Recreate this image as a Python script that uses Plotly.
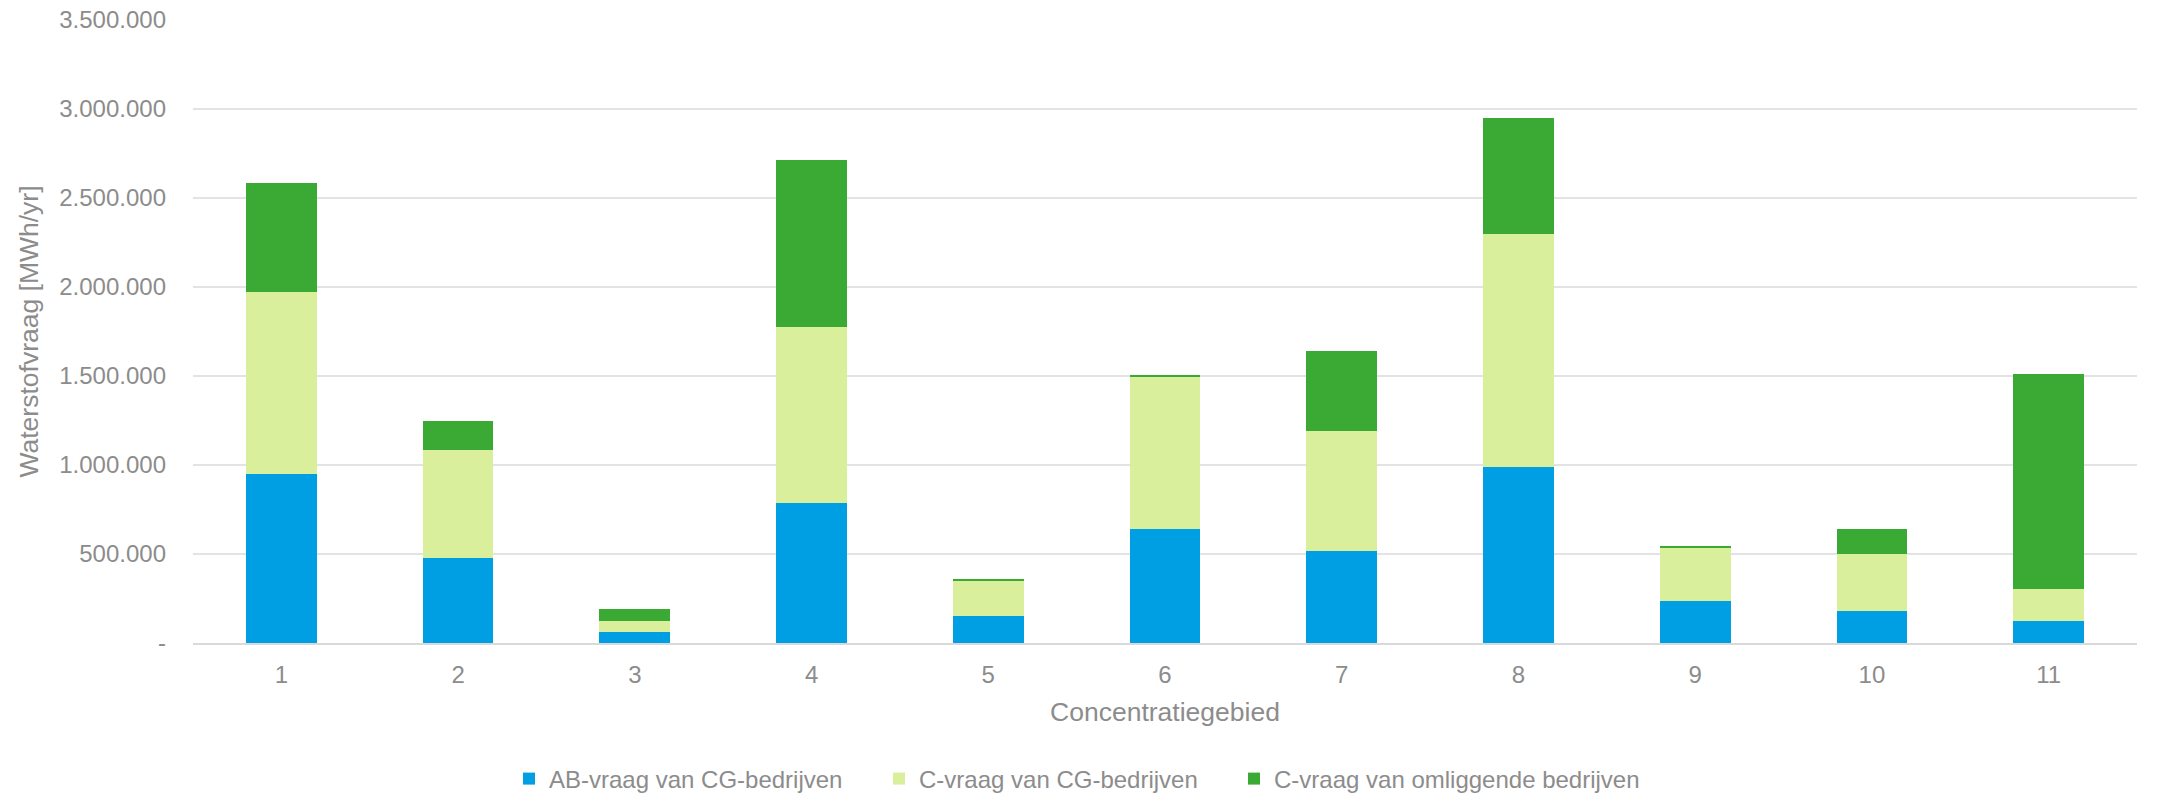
import plotly.graph_objects as go

# ---- data ----
categories = ["1", "2", "3", "4", "5", "6", "7", "8", "9", "10", "11"]
ab_vraag_cg = [950000, 476000, 62000, 786000, 150000, 640000, 519000, 989000, 238000, 180000, 125000]
c_vraag_cg = [1024000, 607000, 63000, 991000, 196000, 856000, 670000, 1309000, 298000, 320000, 176000]
c_vraag_omliggend = [613000, 162000, 64000, 935000, 12000, 7000, 453000, 649000, 9000, 140000, 1210000]

series_names = [
    "AB-vraag van CG-bedrijven",
    "C-vraag van CG-bedrijven",
    "C-vraag van omliggende bedrijven",
]
series_colors = ["#009FE3", "#DAEF9C", "#3BAA34"]

y_tickvals = [0, 500000, 1000000, 1500000, 2000000, 2500000, 3000000, 3500000]
y_ticktext = ["-", "500.000", "1.000.000", "1.500.000", "2.000.000", "2.500.000", "3.000.000", "3.500.000"]

x_title = "Concentratiegebied"
y_title = "Waterstofvraag [MWh/yr]"

# ---- figure ----
TEXT = "#8C8C8C"
GRID = "#E3E3E3"
FONT = "Liberation Sans, Arial, sans-serif"
W, H = 2161, 794

legend_ids = ["legend", "legend2", "legend3"]
legend_marker_left_px = [523, 893, 1248]  # where each legend swatch starts

fig = go.Figure()
for name, vals, col, lid in zip(series_names, [ab_vraag_cg, c_vraag_cg, c_vraag_omliggend],
                                series_colors, legend_ids):
    fig.add_trace(go.Bar(
        x=categories, y=vals, name=name,
        marker=dict(color=col, line=dict(width=0)),
        legend=lid,
    ))

legend_common = dict(
    orientation="h",
    xref="container", yref="container",
    xanchor="left",
    y=1 - 779 / H, yanchor="middle",
    font=dict(size=24, color=TEXT, family=FONT),
    bgcolor="rgba(0,0,0,0)",
    borderwidth=0,
)

layout_legends = {}
for lid, px in zip(legend_ids, legend_marker_left_px):
    layout_legends[lid] = dict(legend_common, x=(px - 14) / W)

fig.update_layout(
    width=W, height=H,
    barmode="stack",
    bargap=0.6,
    plot_bgcolor="white",
    paper_bgcolor="white",
    margin=dict(l=193, r=24, t=20, b=151, autoexpand=False),
    font=dict(family=FONT, size=24, color=TEXT),
    showlegend=True,
    **layout_legends,
)

fig.update_xaxes(
    type="category",
    automargin=False,
    showgrid=False,
    showline=True, linecolor="#D9D9D9", linewidth=1.5,
    ticks="",
    ticklabelstandoff=9,
    tickfont=dict(size=24, color=TEXT),
    title=dict(text=x_title, font=dict(size=26.5, color=TEXT), standoff=16),
    zeroline=False,
)
fig.update_yaxes(
    range=[0, 3500000],
    automargin=False,
    tickvals=y_tickvals, ticktext=y_ticktext,
    showgrid=True, gridcolor=GRID, gridwidth=1.5,
    zeroline=False,
    showline=False,
    ticks="",
    ticklabelstandoff=26,
    tickfont=dict(size=24, color=TEXT),
    title=dict(text=y_title, font=dict(size=26.5, color=TEXT), standoff=12),
)

fig.write_html("out.html")
